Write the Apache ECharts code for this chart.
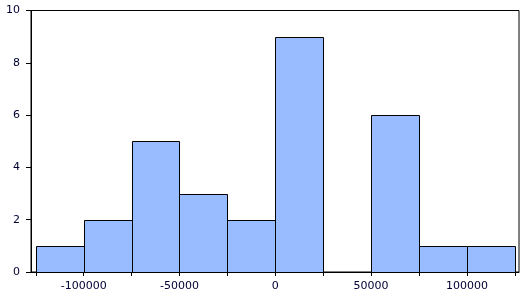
<!DOCTYPE html>
<html><head><meta charset="utf-8">
<script src="https://cdn.jsdelivr.net/npm/echarts@6/dist/echarts.min.js"></script>
<style>html,body{margin:0;padding:0;background:#fff}#c{width:529px;height:299px}</style>
</head><body><div id="c"></div>
<script>
var binEdges = [-125000,-100000,-75000,-50000,-25000,0,25000,50000,75000,100000,125000];
var counts = [1,2,5,3,2,9,0,6,1,1];
var xTickLabels = [-100000,-50000,0,50000,100000];
var yTickLabels = [0,2,4,6,8,10];

var bins = counts.map(function(c,i){ return [binEdges[i], binEdges[i+1], c]; });
var chart = echarts.init(document.getElementById('c'));
var font = '"DejaVu Sans", Verdana, sans-serif';
chart.setOption({
  animation:false,
  grid:{left:31,right:10,top:10.5,bottom:27,show:true,borderColor:'#000',borderWidth:1,backgroundColor:'transparent'},
  xAxis:{type:'value',min:-127500,max:127200,
    axisLine:{show:true,onZero:false,lineStyle:{color:'#000'}},
    axisTick:{show:true,length:4,customValues:binEdges,lineStyle:{color:'#000'}},
    splitLine:{show:false},
    axisLabel:{customValues:xTickLabels,margin:9,color:'#000033',fontFamily:font,fontSize:11,
      formatter:function(v){ return String(v); }}
  },
  yAxis:{type:'value',min:0,max:10,
    axisLine:{show:true,onZero:false,lineStyle:{color:'#000'}},
    axisTick:{show:true,length:5,customValues:yTickLabels,lineStyle:{color:'#000'}},
    splitLine:{show:false},
    axisLabel:{customValues:yTickLabels,margin:11,color:'#000033',fontFamily:font,fontSize:11,
      formatter:function(v){ return String(v); }}
  },
  series:[{type:'custom',data:bins,encode:{x:[0,1],y:2},
    renderItem:function(params,api){
      var c = api.value(2);
      if(!c) return null;
      var p0 = api.coord([api.value(0),0]);
      var p1 = api.coord([api.value(1),c]);
      return {type:'rect',shape:{x:Math.round(p0[0])+0.5,y:Math.round(p1[1])+0.5,width:Math.round(p1[0])-Math.round(p0[0]),height:Math.round(p0[1])-Math.round(p1[1])},
        style:{fill:'#99bbff',stroke:'#000',lineWidth:1}};
    }}]
});
</script></body></html>
